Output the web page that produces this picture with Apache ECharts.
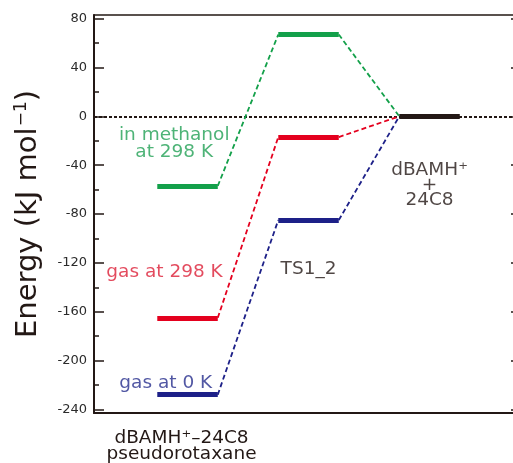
<!DOCTYPE html>
<html><head><meta charset="utf-8">
<script src="https://cdn.jsdelivr.net/npm/echarts@6/dist/echarts.min.js"></script>
<style>html,body{margin:0;padding:0;background:#fff}#c{width:513px;height:463px}</style>
</head><body><div id="c"></div>
<script>
// ---- data ----
const stages = ['dBAMH\u207A\u201324C8\npseudorotaxane', 'TS1_2', 'dBAMH\u207A\n+\n24C8'];
const conditions = ['in methanol\nat 298 K', 'gas at 298 K', 'gas at 0 K'];
const methanol298 = [-57, 67, 0];
const gas298 = [-165, -17, 0];
const gas0 = [-228, -85, 0];
const yTicks = [-240, -200, -160, -120, -80, -40, 0, 40, 80];
const yMinorTicks = [-220, -180, -140, -100, -60, -20, 20, 60];

// ---- styling ----
const FONT = 'DejaVu Sans';
const INK = '#231815';
const colors = ['#13a04a', '#e4001e', '#1d2088'];
const textColors = ['#22a055', '#dc1e36', '#262d8c'];
const HW = 0.25;           // half width of an energy level (stage units)
const X_MIN = -0.773, X_MAX = 2.756;
const Y_MIN = -243, Y_MAX = 83;

const allSeries = [methanol298, gas298, gas0];

function levelData(vals, color, upto) {
  const out = [];
  for (let i = 0; i < upto; i++) {
    out.push({ coords: [[i - HW, vals[i]], [i + HW, vals[i]]], lineStyle: { color: color } });
  }
  return out;
}
function connectorData(vals, color) {
  const out = [];
  for (let i = 0; i < vals.length - 1; i++) {
    out.push({ coords: [[i + HW, vals[i]], [i + 1 - HW, vals[i + 1]]], lineStyle: { color: color } });
  }
  return out;
}

let connectors = [], levels = [];
allSeries.forEach((vals, k) => {
  connectors = connectors.concat(connectorData(vals, colors[k]));
  levels = levels.concat(levelData(vals, colors[k], vals.length - 1));
});
// common product level (last stage)
levels.push({ coords: [[2 - HW, methanol298[2]], [2 + HW, methanol298[2]]], lineStyle: { color: INK } });

// annotation anchors (data coords) for the condition / stage names
const labelPos = [[-0.11, -22], [-0.19, -127.5], [-0.18, -218.5]];
const annotations = conditions.map((t, k) => ({
  value: labelPos[k],
  label: { formatter: t, color: textColors[k] }
}));
annotations.push({ value: [1.0, -125.5], label: { formatter: stages[1], color: INK } });
annotations.push({ value: [2.0, -56], label: { formatter: stages[2], color: INK, lineHeight: 15 } });

const chart = echarts.init(document.getElementById('c'), null, { renderer: 'canvas' });
chart.setOption({
  animation: false,
  backgroundColor: '#fff',
  grid: { left: 94, width: 427, top: 15, bottom: 50, containLabel: false, outerBoundsMode: 'none' },
  xAxis: [{
    type: 'value', min: X_MIN, max: X_MAX, position: 'bottom',
    axisLine: { show: true, onZero: false, lineStyle: { color: INK, width: 2 } },
    axisTick: { show: false },
    splitLine: { show: false },
    axisLabel: {
      customValues: [0], formatter: () => stages[0],
      fontFamily: FONT, fontSize: 18.5, color: INK, lineHeight: 16, margin: 17,
      padding: [0, 12, 0, 0]
    }
  }, {
    type: 'value', min: X_MIN, max: X_MAX, position: 'top',
    axisLine: { show: true, onZero: false, lineStyle: { color: INK, width: 1.5 } },
    axisTick: { show: false }, axisLabel: { show: false }, splitLine: { show: false }
  }],
  yAxis: [{
    type: 'value', min: Y_MIN, max: Y_MAX, position: 'left',
    name: 'Energy (kJ mol{sup|\u22121})',
    nameLocation: 'middle', nameGap: 50,
    nameTextStyle: {
      fontFamily: FONT, fontSize: 29, color: INK,
      rich: { sup: { fontFamily: FONT, fontSize: 17, color: INK, verticalAlign: 'bottom', padding: [0, 0, 14, 1] } }
    },
    axisLine: { show: true, onZero: false, lineStyle: { color: INK, width: 2 } },
    axisTick: { show: true, inside: true, length: 10, customValues: yTicks, lineStyle: { color: INK, width: 1.5 } },
    axisLabel: { customValues: yTicks, fontFamily: FONT, fontSize: 13, color: '#2b2b2b', margin: 7 },
    splitLine: { show: false }
  }, {
    type: 'value', min: Y_MIN, max: Y_MAX, position: 'left',
    axisLine: { show: false, onZero: false },
    axisTick: { show: true, inside: true, length: 5, customValues: yMinorTicks, lineStyle: { color: INK, width: 1.5 } },
    axisLabel: { show: false }, splitLine: { show: false }
  }, {
    type: 'value', min: Y_MIN, max: Y_MAX, position: 'right',
    axisLine: { show: true, onZero: false, lineStyle: { color: INK, width: 2 } },
    axisTick: { show: true, inside: true, length: 10, customValues: yTicks, lineStyle: { color: INK, width: 1.5 } },
    axisLabel: { show: false }, splitLine: { show: false }
  }],
  series: [{
    type: 'lines', coordinateSystem: 'cartesian2d', z: 2,
    lineStyle: { color: INK, width: 1.8, type: [3, 2], opacity: 1 },
    data: [{ coords: [[X_MIN, 0], [X_MAX, 0]] }]
  }, {
    type: 'lines', coordinateSystem: 'cartesian2d', z: 3,
    lineStyle: { width: 1.8, type: [5, 3], opacity: 1 },
    data: connectors
  }, {
    type: 'lines', coordinateSystem: 'cartesian2d', z: 4,
    lineStyle: { width: 5, type: 'solid', opacity: 1, cap: 'butt' },
    data: levels
  }, {
    type: 'scatter', symbolSize: 0, z: 5, silent: true,
    label: { show: true, position: 'inside', fontFamily: FONT, fontSize: 18.5, lineHeight: 17, align: 'center', verticalAlign: 'middle' },
    data: annotations
  }]
});
</script>
</body></html>
